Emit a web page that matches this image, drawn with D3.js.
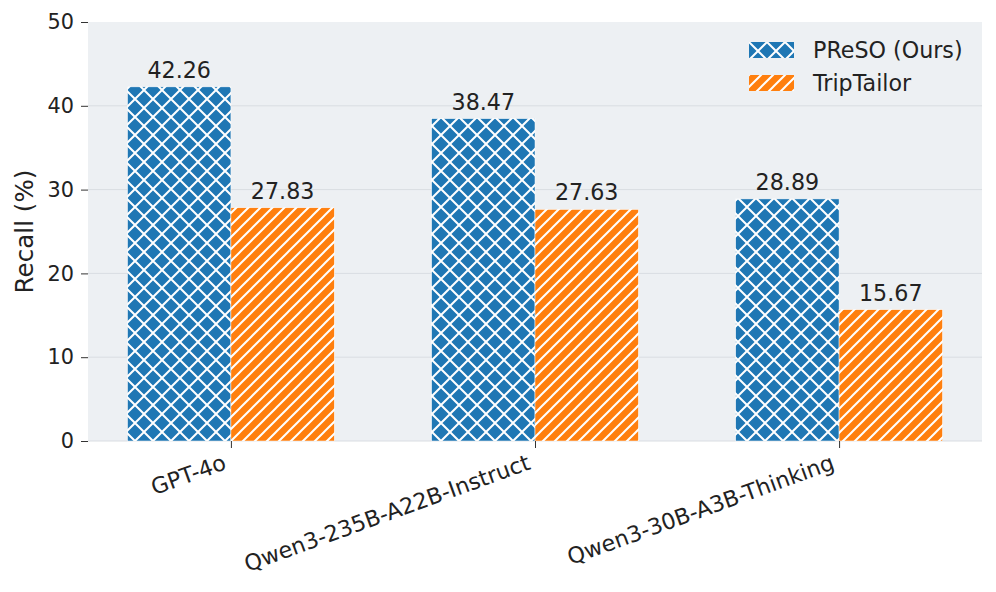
<!DOCTYPE html>
<html>
<head>
<meta charset="utf-8">
<script src="https://cdn.jsdelivr.net/npm/d3@7"></script>
<style>
  body { margin: 0; background: #fff; }
  svg text { font-family: "DejaVu Sans", sans-serif; fill: #222; }
</style>
</head>
<body>
<div id="chart"></div>
<script>
// data
const models = ['GPT-4o', 'Qwen3-235B-A22B-Instruct', 'Qwen3-30B-A3B-Thinking'];
const seriesNames = ['PReSO (Ours)', 'TripTailor'];
const presoValues = [42.26, 38.47, 28.89];
const tripValues = [27.83, 27.63, 15.67];
const yTicks = [0, 10, 20, 30, 40, 50];

const W = 996, H = 592;
const plot = { left: 88, right: 982, top: 22, bottom: 441 };
const barW = 0.34;

const svg = d3.select('#chart').append('svg')
    .attr('width', W)
    .attr('height', H);

// hatch patterns
const defs = svg.append('defs');
const cross = defs.append('pattern')
    .attr('id', 'hatch-x')
    .attr('patternUnits', 'userSpaceOnUse')
    .attr('width', 18).attr('height', 18);
cross.append('rect').attr('width', 18).attr('height', 18).attr('fill', '#1f77b4');
cross.append('path')
    .attr('d', 'M0,0L18,18M0,18L18,0M-2,2L2,-2M16,20L20,16M-2,16L2,20M16,-2L20,2')
    .attr('stroke', '#fff').attr('stroke-width', 2);

const diag = defs.append('pattern')
    .attr('id', 'hatch-d')
    .attr('patternUnits', 'userSpaceOnUse')
    .attr('width', 12).attr('height', 12);
diag.append('rect').attr('width', 12).attr('height', 12).attr('fill', '#ff7f0e');
diag.append('path')
    .attr('d', 'M0,12L12,0M-2,2L2,-2M10,14L14,10')
    .attr('stroke', '#fff').attr('stroke-width', 2);

const fills = ['url(#hatch-x)', 'url(#hatch-d)'];

// scales
const x = d3.scaleLinear().domain([-0.47, 2.47]).range([plot.left, plot.right]);
const y = d3.scaleLinear().domain([0, 50]).range([plot.bottom, plot.top]);

// background + grid
svg.append('rect')
    .attr('x', plot.left).attr('y', plot.top)
    .attr('width', plot.right - plot.left)
    .attr('height', plot.bottom - plot.top)
    .attr('fill', '#edf0f3');

svg.append('g')
    .selectAll('line')
    .data(yTicks.slice(0, -1))
    .join('line')
      .attr('x1', plot.left).attr('x2', plot.right)
      .attr('y1', d => y(d)).attr('y2', d => y(d))
      .attr('stroke', '#d9dde2').attr('stroke-width', 1);

// bars
const data = models.map((m, i) => ({ model: m, i, vals: [presoValues[i], tripValues[i]] }));
const groups = svg.append('g')
    .selectAll('g')
    .data(data)
    .join('g');

groups.selectAll('rect')
    .data(d => d.vals.map((v, k) => ({ i: d.i, k, v })))
    .join('rect')
      .attr('x', d => x(d.i + (d.k - 1) * barW))
      .attr('y', d => y(d.v))
      .attr('width', x(barW) - x(0))
      .attr('height', d => y(0) - y(d.v))
      .attr('fill', d => fills[d.k])
      .attr('stroke', '#fff')
      .attr('stroke-width', 0.5);

groups.selectAll('text.val')
    .data(d => d.vals.map((v, k) => ({ i: d.i, k, v })))
    .join('text')
      .attr('class', 'val')
      .attr('x', d => x(d.i + (d.k - 0.5) * barW))
      .attr('y', d => y(d.v) - 9)
      .attr('text-anchor', 'middle')
      .style('font-size', '22.2px')
      .text(d => d.v.toFixed(2));

// y axis
const yAxis = svg.append('g')
    .attr('transform', `translate(${plot.left},0)`)
    .call(d3.axisLeft(y).tickValues(yTicks).tickSize(7).tickPadding(7));
yAxis.select('.domain').remove();
yAxis.selectAll('line').attr('stroke', '#333');
yAxis.selectAll('text').style('font-size', '20.8px').attr('fill', '#222');

svg.append('text')
    .attr('transform', `translate(33,${(plot.top + plot.bottom) / 2}) rotate(-90)`)
    .attr('text-anchor', 'middle')
    .style('font-size', '24.6px')
    .text('Recall (%)');

// x axis
const xAxis = svg.append('g')
    .attr('transform', `translate(0,${plot.bottom})`)
    .call(d3.axisBottom(x).tickValues([0, 1, 2]).tickSize(7).tickFormat(''));
xAxis.select('.domain').remove();
xAxis.selectAll('line').attr('stroke', '#333');

svg.append('g')
    .selectAll('text')
    .data(models)
    .join('text')
      .attr('transform', (d, i) => `translate(${x(i) - 9},${plot.bottom + 12}) rotate(-20)`)
      .attr('text-anchor', 'end')
      .attr('dy', '0.75em')
      .style('font-size', '22.2px')
      .text(d => d);

// legend
const legend = svg.append('g')
    .attr('transform', 'translate(749,42)');
const items = legend.selectAll('g')
    .data(seriesNames)
    .join('g')
      .attr('transform', (d, i) => `translate(0,${i * 33})`);
items.append('rect')
    .attr('width', 45).attr('height', 16)
    .attr('fill', (d, i) => fills[i]);
items.append('text')
    .attr('x', 64).attr('y', 8)
    .attr('dy', '0.35em')
    .style('font-size', '22.2px')
    .text(d => d);
</script>
</body>
</html>
